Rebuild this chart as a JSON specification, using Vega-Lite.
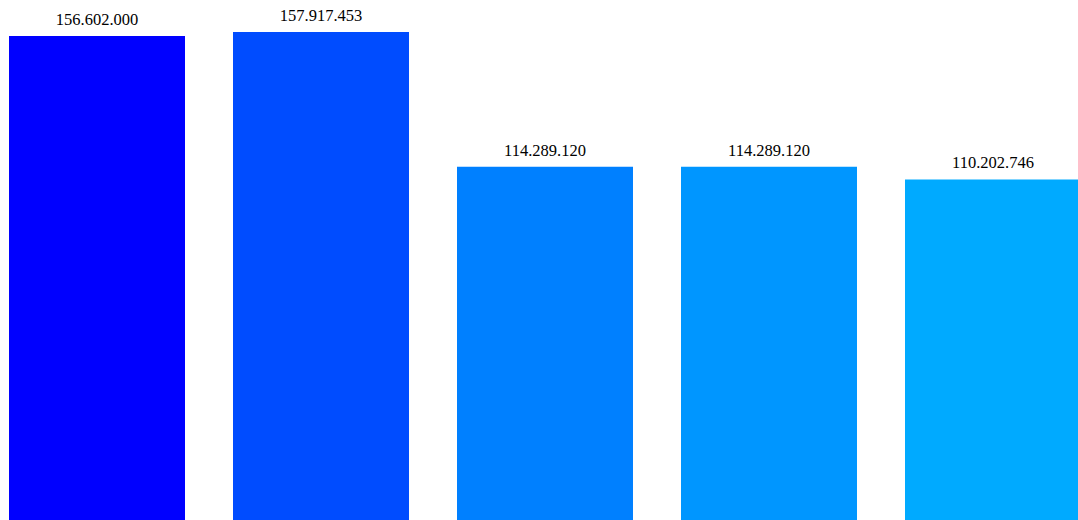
{
  "$schema": "https://vega.github.io/schema/vega-lite/v6.json",
  "width": 1078,
  "height": 520,
  "padding": 0,
  "autosize": {"type": "none"},
  "background": "white",
  "config": {
    "view": {"stroke": null},
    "locale": {"number": {"decimal": ",", "thousands": ".", "grouping": [3], "currency": ["", ""]}}
  },
  "data": {
    "values": [
      {"cat": "A", "value": 156602000},
      {"cat": "B", "value": 157917453},
      {"cat": "C", "value": 114289120},
      {"cat": "D", "value": 114289120},
      {"cat": "E", "value": 110202746}
    ]
  },
  "encoding": {
    "x": {
      "field": "cat", "type": "nominal", "axis": null, "sort": null,
      "scale": {"range": [0, 1090], "paddingInner": 0.2143, "paddingOuter": 0.0402}
    },
    "y": {
      "field": "value", "type": "quantitative", "axis": null,
      "scale": {"domain": [0, 168250000], "nice": false, "zero": true}
    }
  },
  "layer": [
    {
      "mark": {"type": "bar", "clip": true},
      "encoding": {
        "color": {
          "field": "cat", "type": "nominal", "legend": null,
          "scale": {"domain": ["A", "B", "C", "D", "E"], "range": ["#0000FF", "#004CFF", "#0080FF", "#0096FF", "#00AAFF"]}
        }
      }
    },
    {
      "mark": {"type": "text", "font": "Liberation Serif", "fontSize": 16.5, "color": "#000000", "baseline": "alphabetic", "align": "center", "dy": -11},
      "encoding": {
        "text": {"field": "value", "type": "quantitative", "format": ",d"}
      }
    }
  ]
}
